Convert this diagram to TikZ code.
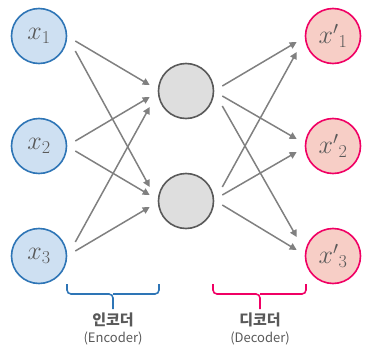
\RequirePackage{fix-cm}
\documentclass[tikz,border=0pt]{standalone}
\usepackage{fontspec}
\usepackage{xcolor}
\newfontfamily\krfont{Noto Sans CJK KR}
\definecolor{inblue}{RGB}{46,117,182}
\definecolor{infill}{RGB}{206,224,242}
\definecolor{outred}{RGB}{240,0,100}
\definecolor{outfill}{RGB}{247,206,198}
\definecolor{hgray}{RGB}{89,89,89}
\definecolor{hfill}{RGB}{222,222,222}
\definecolor{agray}{RGB}{128,128,128}
\usetikzlibrary{arrows.meta,positioning}

\begin{document}
\begin{tikzpicture}[
  x=1pt,y=-1pt,
  unit/.style={circle,minimum size=55pt,inner sep=0pt,line width=1.6pt,text=hgray,font=\fontsize{26}{28}\selectfont},
  inunit/.style={unit,draw=inblue,fill=infill},
  outunit/.style={unit,draw=outred,fill=outfill},
  hunit/.style={unit,draw=hgray,fill=hfill},
  arrow/.style={->,>={Triangle[length=7pt,width=7pt]},line width=1.5pt,agray},
  brace/.style={line width=1.6pt,rounded corners=4pt}
]
  \useasboundingbox (0,0) rectangle (373,351);

  % Input nodes
  \node[inunit] (x1) at (39,36) {$x_1$};
  \node[inunit] (x2) at (39,146) {$x_2$};
  \node[inunit] (x3) at (39,256) {$x_3$};

  % Hidden nodes
  \node[hunit] (h1) at (186,91) {};
  \node[hunit] (h2) at (186,201) {};

  % Output nodes
  \node[outunit] (o1) at (333,36) {${x'}_1$};
  \node[outunit] (o2) at (333,146) {${x'}_2$};
  \node[outunit] (o3) at (333,256) {${x'}_3$};

  % Encoder arrows
  \draw[arrow] ([xshift=8pt,yshift=-5pt]x1.east) -- ([xshift=-8pt,yshift=6pt]h1.west);
  \draw[arrow] ([xshift=8pt,yshift=-15pt]x1.east) -- ([xshift=-8pt,yshift=14pt]h2.west);
  \draw[arrow] ([xshift=8pt,yshift=5pt]x2.east) -- ([xshift=-8pt,yshift=-6pt]h1.west);
  \draw[arrow] ([xshift=8pt,yshift=-5pt]x2.east) -- ([xshift=-8pt,yshift=6pt]h2.west);
  \draw[arrow] ([xshift=8pt,yshift=14pt]x3.east) -- ([xshift=-8pt,yshift=-16pt]h1.west);
  \draw[arrow] ([xshift=8pt,yshift=5pt]x3.east) -- ([xshift=-8pt,yshift=-6pt]h2.west);

  % Decoder arrows
  \draw[arrow] ([xshift=8pt,yshift=5pt]h1.east) -- ([xshift=-8pt,yshift=-6pt]o1.west);
  \draw[arrow] ([xshift=8pt,yshift=-5pt]h1.east) -- ([xshift=-8pt,yshift=7pt]o2.west);
  \draw[arrow] ([xshift=8pt,yshift=-15pt]h1.east) -- ([xshift=-8pt,yshift=19pt]o3.west);
  \draw[arrow] ([xshift=8pt,yshift=14pt]h2.east) -- ([xshift=-8pt,yshift=-16pt]o1.west);
  \draw[arrow] ([xshift=8pt,yshift=6pt]h2.east) -- ([xshift=-8pt,yshift=-6pt]o2.west);
  \draw[arrow] ([xshift=8pt,yshift=-4pt]h2.east) -- ([xshift=-8pt,yshift=6pt]o3.west);

  % Braces
  \draw[brace,inblue] (67,284) |- (113,294) -- (113,309);
  \draw[brace,inblue] (159,284) |- (113,294);
  \draw[brace,outred] (213,284) |- (260,294) -- (260,309);
  \draw[brace,outred] (306,284) |- (260,294);

  % Labels
  \node[font=\krfont\bfseries\fontsize{15}{17}\selectfont,text=hgray] (enc) at (113,320) {인코더};
  \node[font=\krfont\fontsize{13}{15}\selectfont,text=hgray] (encen) at (113,338) {(Encoder)};
  \node[font=\krfont\bfseries\fontsize{15}{17}\selectfont,text=hgray] (dec) at (260,320) {디코더};
  \node[font=\krfont\fontsize{13}{15}\selectfont,text=hgray] (decen) at (260,338) {(Decoder)};
\end{tikzpicture}
\end{document}
